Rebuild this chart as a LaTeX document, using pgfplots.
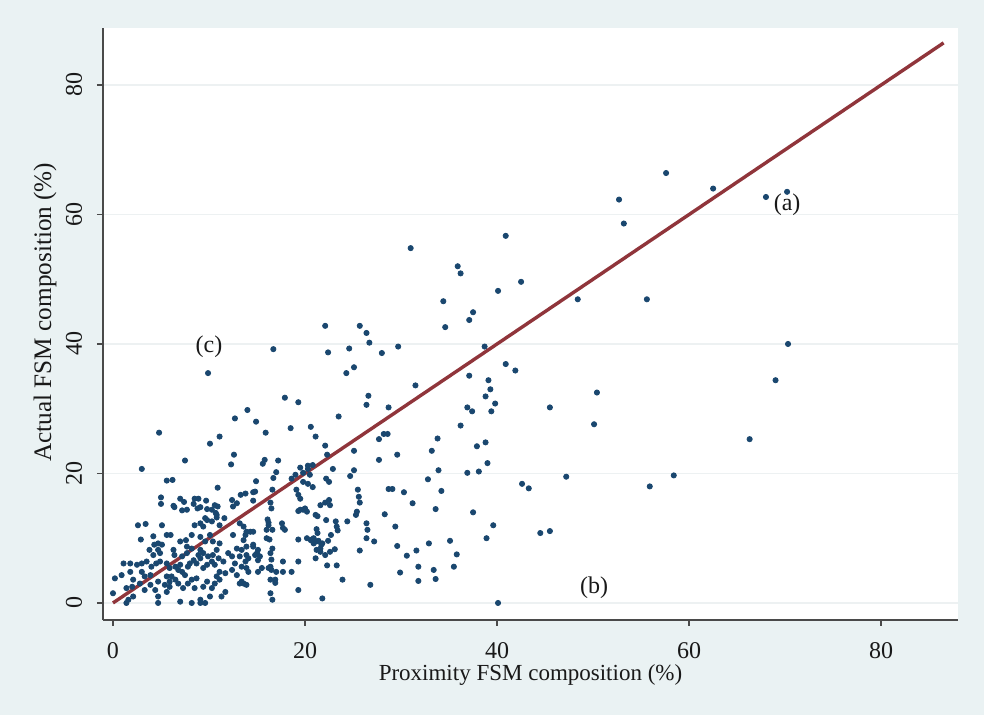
\documentclass[border=0pt]{standalone}
\usepackage{fontspec}
\setmainfont{Liberation Serif}
\usepackage{pgfplots}
\pgfplotsset{compat=1.18}
\definecolor{bgc}{HTML}{EAF2F3}
\definecolor{dotc}{HTML}{1A476F}
\definecolor{linec}{HTML}{90353B}
\definecolor{gridc}{HTML}{EDF1F2}
\definecolor{axc}{HTML}{4A4A4A}
\pgfplotstableread{
x y
62.5 64.0
68.0 62.7
70.2 63.5
52.7 62.3
53.2 58.6
57.6 66.4
31.0 54.8
40.9 56.7
35.9 52.0
36.2 50.9
42.5 49.6
40.1 48.2
34.4 46.6
48.4 46.9
55.6 46.9
37.5 44.9
37.1 43.7
34.6 42.6
28.0 38.6
29.7 39.6
38.7 39.6
70.3 40.0
40.9 36.9
41.9 35.9
37.1 35.1
39.1 34.4
39.3 33.0
69.0 34.4
31.5 33.6
50.4 32.5
38.8 31.9
39.8 30.8
28.7 30.2
36.9 30.2
37.4 29.6
39.4 29.6
45.5 30.2
36.2 27.4
50.1 27.6
28.2 26.1
28.6 26.1
33.8 25.4
33.2 23.5
29.6 22.9
37.9 24.2
38.8 24.8
66.3 25.3
39.0 21.6
33.9 20.5
36.9 20.1
38.1 20.3
47.2 19.5
58.4 19.7
55.9 18.0
32.8 19.1
28.7 17.6
29.1 17.6
30.3 17.1
34.2 17.3
42.6 18.4
43.3 17.7
31.2 15.4
33.6 14.5
28.3 13.7
37.5 14.0
29.4 11.8
39.6 12.0
38.9 10.0
44.5 10.8
45.5 11.1
32.9 9.2
35.1 9.6
29.6 8.8
31.6 8.1
30.6 7.3
35.8 7.5
31.8 5.6
33.4 5.1
35.5 5.6
29.9 4.7
31.8 3.4
33.6 3.7
40.1 0.0
9.9 35.5
16.7 39.2
22.1 42.8
22.4 38.7
24.6 39.3
25.7 42.8
26.4 41.7
26.7 40.2
24.3 35.5
25.1 36.4
17.9 31.7
19.3 31.0
14.0 29.8
12.7 28.5
14.9 28.0
26.6 32.0
26.4 30.6
23.5 28.8
4.8 26.3
10.1 24.6
11.1 25.7
15.9 26.3
18.5 27.0
20.6 27.2
21.1 25.7
22.1 24.3
22.3 22.9
25.1 23.5
27.7 25.3
27.7 22.1
7.5 22.0
3.0 20.7
12.6 22.9
12.3 21.4
15.8 22.1
15.6 21.5
17.2 22.0
17.0 20.2
14.9 18.8
16.7 19.3
19.5 20.9
19.8 20.1
20.3 20.7
19.0 19.8
22.2 19.2
22.5 18.7
22.9 20.7
24.7 19.6
25.1 20.5
5.6 18.9
6.2 19.0
10.9 17.8
13.3 16.7
14.6 17.1
5.0 16.3
5.0 15.3
7.0 16.1
7.4 15.6
8.5 16.1
8.9 16.1
9.7 15.8
6.3 15.0
7.7 14.4
7.2 14.3
8.8 14.6
9.8 14.5
10.9 14.9
10.7 13.9
10.8 13.2
12.4 15.9
13.8 16.9
16.4 15.5
16.5 14.6
17.6 12.3
17.7 11.6
19.3 14.2
19.8 14.4
21.6 15.1
22.1 15.5
22.5 15.9
22.6 15.1
21.3 13.4
22.2 12.8
21.2 11.4
21.3 10.8
23.2 12.6
23.3 11.8
23.4 11.2
24.4 12.6
25.3 13.6
25.4 14.1
25.5 17.5
25.6 16.4
25.7 15.5
26.4 12.3
26.5 11.3
26.4 10.0
27.2 9.5
25.7 8.1
22.7 10.5
22.4 9.6
21.4 9.6
21.7 9.0
21.6 8.4
20.9 10.0
20.6 9.7
20.2 10.0
19.3 9.8
22.1 7.4
22.3 5.8
23.3 5.8
23.9 3.6
26.8 2.8
19.3 6.4
19.3 2.0
21.8 0.7
16.2 12.4
16.6 11.3
16.1 12.9
16.6 8.4
16.4 7.7
16.5 6.7
16.4 5.6
17.0 4.8
17.7 6.4
17.7 4.8
18.6 4.8
16.4 1.5
16.6 0.5
13.6 3.0
13.9 2.8
14.6 8.7
15.0 7.7
15.1 6.6
16.0 10.0
16.3 9.8
6.4 14.8
8.4 15.3
9.1 14.8
10.3 14.4
10.6 15.1
12.5 14.9
12.9 15.4
2.6 12.0
3.4 12.2
5.1 12.0
2.9 9.8
4.2 10.3
5.6 10.5
6.0 10.5
4.3 9.0
4.7 9.2
5.1 9.0
4.7 8.2
3.8 8.2
6.3 8.2
6.4 7.4
7.0 9.5
7.6 9.7
8.2 10.5
8.5 12.0
9.1 12.3
9.4 11.8
9.6 13.1
9.8 12.8
10.3 12.6
10.8 13.6
11.1 12.0
11.6 13.1
9.1 10.2
9.6 9.5
10.1 10.5
10.4 9.5
10.8 8.2
11.1 9.2
12.5 10.5
12.9 8.4
13.4 8.2
13.9 7.4
13.9 8.7
13.6 9.7
1.1 6.1
1.8 6.1
2.5 5.9
3.0 6.1
3.5 6.4
4.0 5.6
4.5 6.1
4.9 6.4
5.6 6.1
5.9 5.4
6.5 5.6
6.8 5.1
7.2 4.8
7.0 5.9
7.5 4.3
7.8 5.6
8.0 6.1
8.4 6.6
8.7 6.1
9.1 6.9
9.4 5.4
9.8 5.9
10.3 6.4
10.6 5.9
11.0 6.9
11.5 6.4
12.0 7.7
12.4 7.2
12.7 6.1
13.2 7.2
14.1 6.9
11.1 4.8
11.7 4.6
12.4 5.1
12.9 4.3
13.4 3.3
0.0 1.5
1.4 2.3
2.0 2.5
2.1 1.0
1.6 0.5
1.4 0.0
2.8 3.0
3.3 2.0
3.9 2.8
4.4 2.0
4.7 3.3
3.3 4.1
3.9 4.3
3.0 4.8
4.7 1.0
4.7 0.0
5.4 2.8
5.9 2.5
5.6 1.7
6.1 4.1
6.5 3.6
6.8 3.0
7.3 2.3
7.8 3.0
8.2 3.6
8.5 2.3
8.7 3.8
7.0 0.2
8.2 0.0
9.1 0.0
9.6 0.0
9.1 0.5
9.4 2.5
9.8 3.3
10.3 2.3
10.6 3.0
10.8 4.1
11.1 3.6
10.1 1.0
11.3 1.0
11.7 1.7
4.2 7.4
4.9 7.7
0.2 3.8
0.9 4.3
1.8 4.8
2.1 3.6
7.7 8.7
8.2 8.4
7.2 7.2
7.7 7.7
9.1 8.2
8.9 7.4
9.4 7.7
9.9 7.2
10.4 7.4
5.6 4.1
5.9 3.3
13.2 12.3
13.6 11.8
13.9 11.0
14.3 11.0
14.6 11.0
13.8 10.5
16.2 12.0
16.0 11.3
17.9 11.3
14.6 9.0
15.1 8.2
15.3 7.2
14.8 7.4
13.8 6.4
13.9 5.4
14.1 4.8
13.4 5.6
15.1 4.8
15.5 5.4
16.2 5.4
16.5 5.1
16.4 3.6
16.9 3.6
16.9 3.1
13.2 3.0
20.7 9.8
20.9 9.2
21.2 9.5
21.8 9.2
21.2 8.2
21.6 7.9
22.6 7.9
23.1 8.3
21.1 6.9
19.5 14.4
20.0 14.6
20.2 14.1
21.1 13.6
14.8 17.2
14.6 15.8
16.6 17.5
18.6 19.2
20.3 21.2
20.8 21.3
20.5 19.8
19.8 18.7
20.3 18.4
20.8 17.9
19.1 17.5
19.3 16.7
19.5 16.1
}\pts
\pgfplotstableread{
x y
0 0
86.5 86.5
}\fitline
\begin{document}
\begin{tikzpicture}
\fill[bgc] (-51.5pt,-47.5pt) rectangle (440.5pt,310pt);
\begin{axis}[
  at={(0pt,0pt)}, anchor=south west,
  scale only axis, width=427.5pt, height=296pt,
  xmin=-1.04, xmax=88.0, ymin=-2.63, ymax=88.8,
  axis background/.style={fill=white},
  axis x line*=bottom, axis y line*=left,
  axis line style={draw=axc, line width=0.7pt, -},
  xtick={0,20,40,60,80}, ytick={0,20,40,60,80},
  tick align=outside, major tick length=3pt,
  tick style={draw=axc, line width=0.7pt},
  ymajorgrids, grid style={draw=gridc, line width=0.9pt},
  /pgf/number format/assume math mode=true,
  tick label style={font=\fontsize{12}{14}\selectfont, text=black!90},
  xticklabel style={anchor=north, inner sep=0pt},
  xticklabel shift=8.3pt,
  yticklabel style={rotate=90, anchor=south, inner sep=0pt},
  yticklabel shift=7.3pt,
  xlabel={Proximity FSM composition (\%)},
  ylabel={Actual FSM composition (\%)},
  every axis x label/.style={at={(axis description cs:0.5,-0.0929)}, anchor=center, font=\fontsize{11.5}{13}\selectfont, text=black!90},
  every axis y label/.style={at={(axis description cs:-0.0678,0.52)}, rotate=90, anchor=center, font=\fontsize{12.6}{14}\selectfont, text=black!90},
  clip=false,
]
\addplot[only marks, mark=*, mark size=1.3pt, color=dotc] table[x=x, y=y] {\pts};
\addplot[linec, line width=1.7pt] table[x=x, y=y] {\fitline};
\node[font=\fontsize{12}{14}\selectfont, text=black!90] at (axis cs:70.2,61.5) {(a)};
\node[font=\fontsize{12}{14}\selectfont, text=black!90] at (axis cs:50.1,2.3) {(b)};
\node[font=\fontsize{12}{14}\selectfont, text=black!90] at (axis cs:10.0,39.5) {(c)};
\end{axis}
\pgfresetboundingbox
\path (-51.5pt,-47.5pt) rectangle (440.5pt,310pt);
\end{tikzpicture}
\end{document}
